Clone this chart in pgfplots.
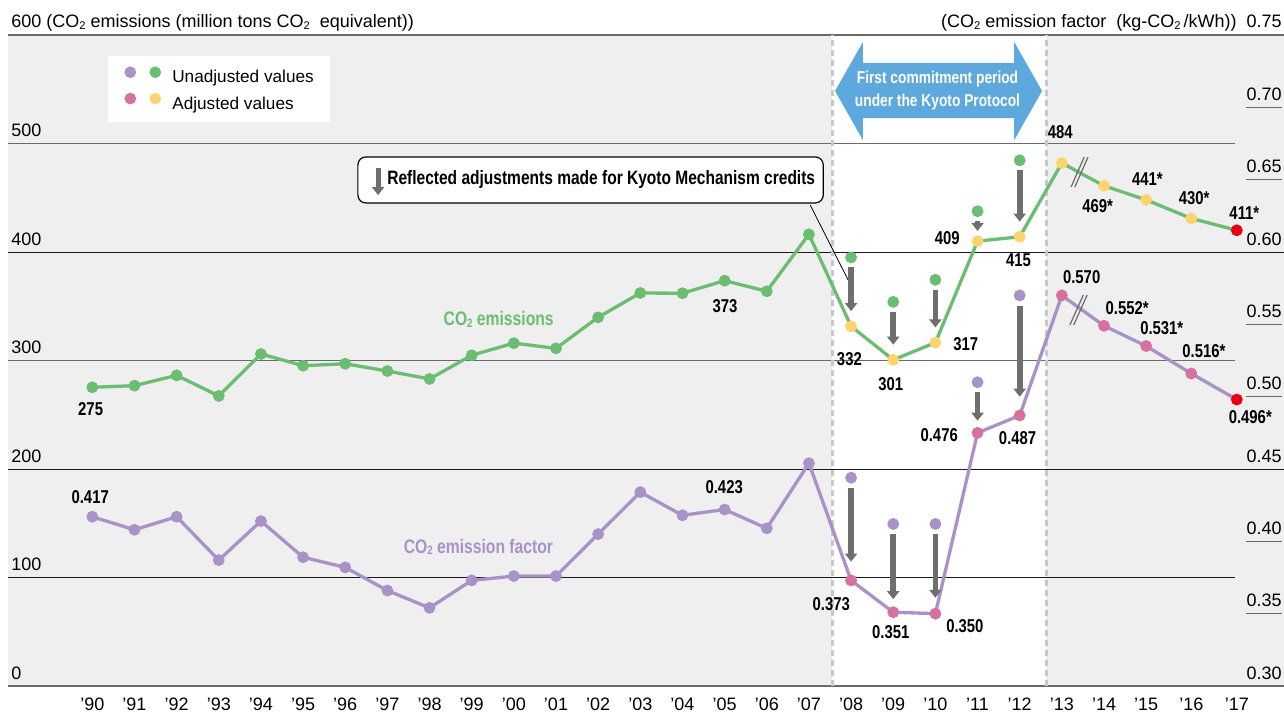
\documentclass[border=0pt]{standalone}
\usepackage{fontspec}
\setmainfont{Liberation Sans}
\newfontfamily\cond{Liberation Sans}[FakeStretch=0.8]
\usepackage{pgfplots}
\pgfplotsset{compat=1.18}
\usetikzlibrary{arrows.meta}
\definecolor{cgreen}{HTML}{6BBD72}
\definecolor{cpurple}{HTML}{A892C8}
\definecolor{cpink}{HTML}{D8709F}
\definecolor{cyellow}{HTML}{FFD46E}
\definecolor{cred}{HTML}{E60012}
\definecolor{cblue}{HTML}{5DA9DD}
\definecolor{carrow}{HTML}{6E6E6E}
\definecolor{cbg}{HTML}{EFEFEF}
\definecolor{cdash}{HTML}{C8C8C8}
\definecolor{cline}{HTML}{6A6A6A}
\definecolor{cgrid}{HTML}{1A1A1A}
\newcommand\sub[1]{\raisebox{-0.15ex}{\scalebox{0.62}{#1}}}
\newcommand\ul[1]{#1\llap{\textcolor{cline}{\rule[-3.8pt]{18pt}{0.6pt}}}}
\newcommand\labfont{\cond\bfseries\fontsize{9.3}{10}\selectfont}
\newcommand\regfont{\fontsize{9}{10.5}\selectfont}
\newcommand\legfont{\fontsize{8.6}{10}\selectfont}
\tikzset{
  lab/.style={font=\labfont, inner sep=0pt, text=black},
  adj/.style={carrow, line width=2.8pt, -{Triangle[width=6pt,length=4pt]}},
}
\pgfplotsset{
  mybase/.style={width=638pt, height=325.5pt, scale only axis,
    xmin=-2, xmax=28.27, axis line style={draw=none}, clip=false},
  dots/.style={only marks, mark=*, mark size=2.75pt, color=#1, mark options={draw=#1, fill=#1}, forget plot},
}
\begin{document}
\begin{tikzpicture}
\begin{axis}[mybase,
  ymin=0, ymax=600,
  axis background/.style={fill=cbg},
  xtick={0,1,2,3,4,5,6,7,8,9,10,11,12,13,14,15,16,17,18,19,20,21,22,23,24,25,26.07,27.15},
  xticklabels={’90,’91,’92,’93,’94,’95,’96,’97,’98,’99,’00,’01,’02,’03,’04,’05,’06,’07,’08,’09,’10,’11,’12,’13,’14,’15,’16,’17},
  xtick style={draw=none},
  xticklabel style={anchor=base, yshift=-12pt, font=\regfont, inner sep=0pt},
  ytick={0,100,200,300,400,500,600},
  yticklabels={0,100,200,300,400,500,{600 (CO\sub{2} emissions (million tons CO\sub{2}\ \ equivalent))}},
  ytick style={draw=none},
  ytick pos=left,
  yticklabel style={anchor=base west, xshift=1.5pt, yshift=3.5pt, inner sep=0pt, font=\regfont},
  legend style={at={(0.0783,0.9677)}, anchor=north west, fill=white, draw=none,
    inner xsep=8pt, inner ysep=5pt, row sep=3.5pt, font=\legfont,
    nodes={inner sep=0pt}},
  legend cell align=left,
]
\fill[white] (axis cs:17.55,0) rectangle (axis cs:22.63,600);
\draw[cgrid, line width=0.5pt] (axis cs:-2,100) -- (axis cs:27.11,100);
\draw[cgrid, line width=0.5pt] (axis cs:-2,200) -- (axis cs:28.27,200);
\draw[cline, line width=0.8pt] (axis cs:-2,300) -- (axis cs:27.11,300);
\draw[cgrid, line width=0.5pt] (axis cs:-2,400) -- (axis cs:28.27,400);
\draw[cline, line width=0.8pt] (axis cs:-2,500) -- (axis cs:27.11,500);
\draw[cline, line width=0.8pt] (axis cs:-2,0) -- (axis cs:28.27,0);
\draw[cline, line width=0.8pt] (axis cs:-2,600) -- (axis cs:28.27,600);
\draw[cdash, line width=1.5pt, dash pattern=on 3pt off 2pt] (axis cs:17.55,0) -- (axis cs:17.55,600);
\draw[cdash, line width=1.5pt, dash pattern=on 3pt off 2pt] (axis cs:22.63,0) -- (axis cs:22.63,600);
% blue double arrow
\fill[cblue] (axis cs:17.62,548.4) -- (axis cs:18.28,593.5) -- (axis cs:18.28,574.2) -- (axis cs:21.87,574.2) -- (axis cs:21.87,593.5) -- (axis cs:22.53,548.4) -- (axis cs:21.87,503.2) -- (axis cs:21.87,523.5) -- (axis cs:18.28,523.5) -- (axis cs:18.28,503.2) -- cycle;
\node[text=white, font=\cond\bfseries\fontsize{8.6}{11.5}\selectfont, align=center, inner sep=0pt] at (axis cs:20.05,548.5) {First commitment period\\under the Kyoto Protocol};
% callout
\draw[black, line width=0.4pt] (axis cs:17.03,443.3) -- (axis cs:17.93,374.2);
\filldraw[fill=white, draw=black, line width=0.6pt, rounded corners=4pt] (axis cs:6.30,445.2) rectangle (axis cs:17.34,487.6);
\draw[adj, line width=2.4pt] (axis cs:6.78,477.1) -- (axis cs:6.78,452.5);
\node[anchor=west, font=\cond\bfseries\fontsize{9.7}{10}\selectfont, inner sep=0pt] at (axis cs:6.99,466.4) {Reflected adjustments made for Kyoto Mechanism credits};
% green series
\addplot[cgreen, line width=1.65pt, forget plot] table {
x y
0 275.3
1 276.8
2 286.3
3 267.3
4 306
5 295.2
6 297
7 290.3
8 283
9 304.8
10 316
11 311.2
12 339.8
13 362.2
14 362
15 373.6
16 363.8
17 416.3
18 331.5
19 300.6
20 316.5
21 410
22 414
23 482
24 461
25 448
26.07 431
27.15 420
};
\addplot[dots=cgreen] table {
x y
0 275.3
1 276.8
2 286.3
3 267.3
4 306
5 295.2
6 297
7 290.3
8 283
9 304.8
10 316
11 311.2
12 339.8
13 362.2
14 362
15 373.6
16 363.8
17 416.3
18 395
19 354
20 374.4
21 437.6
22 484.5
};
\addplot[dots=cyellow] table {
x y
18 331.5
19 300.6
20 316.5
21 410
22 414
23 482
24 461
25 448
26.07 431
};
\addplot[dots=cred] table {
x y
27.15 420
};
\draw[adj] (axis cs:18,386) -- (axis cs:18,345.5);
\draw[adj] (axis cs:19,345) -- (axis cs:19,314.6);
\draw[adj] (axis cs:20,365.4) -- (axis cs:20,330.5);
\draw[adj] (axis cs:21,428.6) -- (axis cs:21,419.4);
\draw[adj] (axis cs:22,475.5) -- (axis cs:22,428);
% break mark
\draw[cline, line width=0.6pt] (axis cs:23.22,460) -- (axis cs:23.53,487.5);
\draw[cline, line width=0.6pt] (axis cs:23.31,460) -- (axis cs:23.62,487.5);
% green labels
\node[lab] at (axis cs:-0.04,255.3) {275};
\node[lab] at (axis cs:15.01,350.2) {373};
\node[lab] at (axis cs:17.96,301.1) {332};
\node[lab] at (axis cs:18.94,278.1) {301};
\node[lab] at (axis cs:20.72,315.2) {317};
\node[lab] at (axis cs:20.28,412.6) {409};
\node[lab] at (axis cs:21.97,392) {415};
\node[lab] at (axis cs:22.96,510.9) {484};
\node[lab] at (axis cs:23.85,442.4) {469*};
\node[lab] at (axis cs:25.03,467) {441*};
\node[lab] at (axis cs:26.14,449.5) {430*};
\node[lab] at (axis cs:27.33,435.7) {411*};
\node[lab, text=cgreen, font=\cond\bfseries\fontsize{9.8}{10}\selectfont] at (axis cs:9.64,338) {CO\sub{2} emissions};
% legend
\addlegendimage{legend image code/.code={\path[draw=none,fill=none] (0pt,0pt) -- (24pt,0pt); \fill[cpurple] (3pt,2.9pt) circle[radius=2.7pt]; \fill[cgreen] (15.5pt,2.9pt) circle[radius=2.7pt];}}
\addlegendentry{Unadjusted values}
\addlegendimage{legend image code/.code={\path[draw=none,fill=none] (0pt,0pt) -- (24pt,0pt); \fill[cpink] (3pt,2.9pt) circle[radius=2.7pt]; \fill[cyellow] (15.5pt,2.9pt) circle[radius=2.7pt];}}
\addlegendentry{Adjusted values}
\end{axis}
\begin{axis}[mybase,
  ymin=0.30, ymax=0.75,
  xtick=\empty,
  ytick={0.30,0.35,0.40,0.45,0.50,0.55,0.60,0.65,0.70,0.75},
  yticklabels={0.30,\ul{0.35},\ul{0.40},0.45,\ul{0.50},\ul{0.55},0.60,\ul{0.65},\ul{0.70},{(CO\sub{2} emission factor\ \ (kg-CO\sub{2}\,/kWh))\ \ 0.75}},
  ytick pos=right, yticklabel pos=right,
  ytick style={draw=none},
  yticklabel style={anchor=base east, xshift=-1pt, yshift=3.5pt, inner sep=0pt, font=\regfont},
]
\addplot[cpurple, line width=1.65pt, forget plot] table {
x y
0 0.417
1 0.408
2 0.417
3 0.387
4 0.414
5 0.389
6 0.382
7 0.366
8 0.354
9 0.373
10 0.376
11 0.376
12 0.405
13 0.434
14 0.418
15 0.422
16 0.409
17 0.454
18 0.373
19 0.351
20 0.350
21 0.475
22 0.487
23 0.570
24 0.549
25 0.535
26.07 0.516
27.15 0.498
};
\addplot[dots=cpurple] table {
x y
0 0.417
1 0.408
2 0.417
3 0.387
4 0.414
5 0.389
6 0.382
7 0.366
8 0.354
9 0.373
10 0.376
11 0.376
12 0.405
13 0.434
14 0.418
15 0.422
16 0.409
17 0.454
18 0.444
19 0.412
20 0.412
21 0.510
22 0.570
};
\addplot[dots=cpink] table {
x y
18 0.373
19 0.351
20 0.350
21 0.475
22 0.487
23 0.570
24 0.549
25 0.535
26.07 0.516
};
\addplot[dots=cred] table {
x y
27.15 0.498
};
\draw[adj] (axis cs:18,0.437) -- (axis cs:18,0.386);
\draw[adj] (axis cs:19,0.405) -- (axis cs:19,0.360);
\draw[adj] (axis cs:20,0.405) -- (axis cs:20,0.361);
\draw[adj] (axis cs:21,0.5034) -- (axis cs:21,0.4834);
\draw[adj] (axis cs:22,0.563) -- (axis cs:22,0.500);
\draw[cline, line width=0.6pt] (axis cs:23.19,0.5495) -- (axis cs:23.51,0.5703);
\draw[cline, line width=0.6pt] (axis cs:23.28,0.5495) -- (axis cs:23.60,0.5703);
\node[lab] at (axis cs:-0.05,0.4309) {0.417};
\node[lab] at (axis cs:14.99,0.4378) {0.423};
\node[lab] at (axis cs:17.53,0.3565) {0.373};
\node[lab] at (axis cs:18.94,0.3371) {0.351};
\node[lab] at (axis cs:20.70,0.3415) {0.350};
\node[lab] at (axis cs:20.09,0.4735) {0.476};
\node[lab] at (axis cs:21.95,0.4712) {0.487};
\node[lab] at (axis cs:23.47,0.5825) {0.570};
\node[lab] at (axis cs:24.55,0.5611) {0.552*};
\node[lab] at (axis cs:25.37,0.5473) {0.531*};
\node[lab] at (axis cs:26.37,0.5318) {0.516*};
\node[lab] at (axis cs:27.47,0.4857) {0.496*};
\node[lab, text=cpurple, font=\cond\bfseries\fontsize{9.8}{10}\selectfont] at (axis cs:9.16,0.3963) {CO\sub{2} emission factor};
\end{axis}
\pgfresetboundingbox
\useasboundingbox ([xshift=-4pt,yshift=-13.5pt]current axis.south west) rectangle ([yshift=17.5pt]current axis.north east);
\end{tikzpicture}
\end{document}
